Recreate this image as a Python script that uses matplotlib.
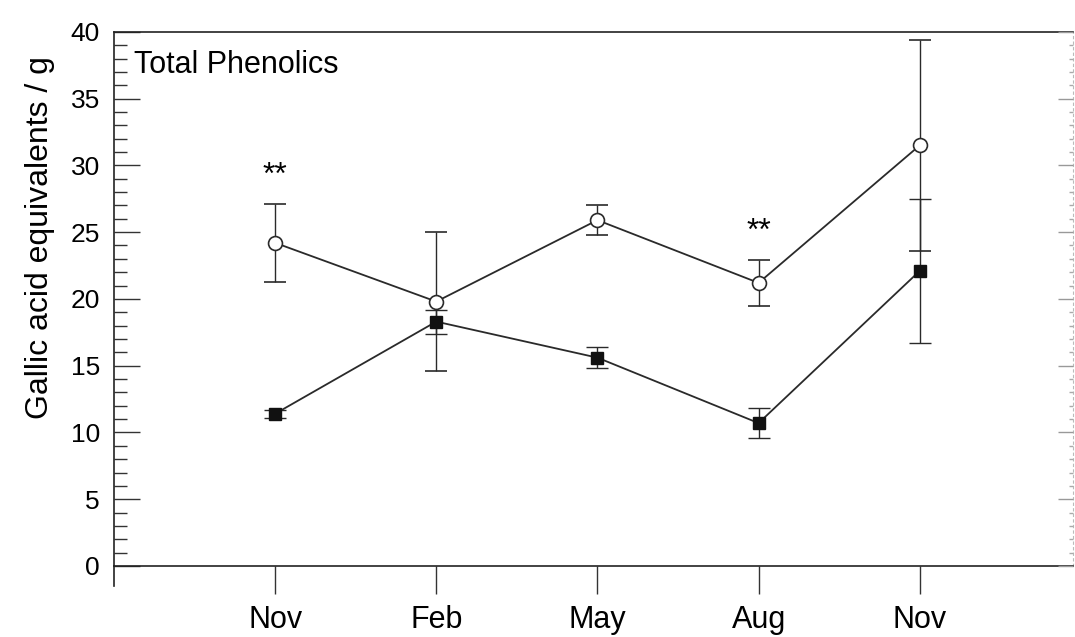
import numpy as np
import matplotlib.pyplot as plt
from matplotlib.ticker import MultipleLocator

plt.rcParams['font.family'] = ['Liberation Sans', 'DejaVu Sans']

months = ['Nov', 'Feb', 'May', 'Aug', 'Nov']

# open circles
open_mean = [24.2, 19.8, 25.9, 21.2, 31.5]
open_err = [2.9, 5.2, 1.1, 1.7, 7.9]

# filled squares
filled_mean = [11.4, 18.3, 15.6, 10.7, 22.1]
filled_err = [0.3, 0.9, 0.8, 1.1, 5.4]

stars = ['**', '', '', '**', '']

fig = plt.figure(figsize=(10.75, 6.37), dpi=100)
ax = fig.add_axes([0.106, 0.1115, 0.892, 0.8385])

x = np.arange(len(months))

ax.errorbar(x, open_mean, yerr=open_err, fmt='-o', color='#2a2a2a', lw=1.3,
            ms=10, mfc='white', mec='#2a2a2a', mew=1.2,
            ecolor='#2a2a2a', elinewidth=1.0, capsize=8, capthick=1.0, zorder=3)
ax.errorbar(x, filled_mean, yerr=filled_err, fmt='-s', color='#2a2a2a', lw=1.3,
            ms=8.5, mfc='#111111', mec='#111111',
            ecolor='#2a2a2a', elinewidth=1.0, capsize=8, capthick=1.0, zorder=3)

for xi, m, e, s in zip(x, open_mean, open_err, stars):
    if s:
        ax.text(xi, m + e + 1.5, s, ha='center', va='baseline', fontsize=23)

ax.set_xlim(-1, 4.95)
ax.set_ylim(0, 40)
ax.set_xticks(x)
ax.set_xticklabels(months, fontsize=22)
ax.yaxis.set_major_locator(MultipleLocator(5))
ax.yaxis.set_minor_locator(MultipleLocator(1))
ax.tick_params(axis='y', which='major', direction='in', length=19, width=1.0,
               labelsize=19, pad=10, color='#333333')
ax.tick_params(axis='y', which='minor', direction='in', length=9, width=1.0,
               color='#333333')
ax.tick_params(axis='x', direction='out', length=20, width=1.0, pad=8,
               color='#333333')

ax.set_ylabel('Gallic acid equivalents / g', fontsize=23)
ax.yaxis.set_label_coords(-0.061, 0.614)
ax.text(0.021, 0.923, 'Total Phenolics', transform=ax.transAxes,
        ha='left', va='baseline', fontsize=22)

for side in ['left', 'top', 'bottom']:
    ax.spines[side].set_color('#222222')
    ax.spines[side].set_linewidth(1.2)
ax.spines['right'].set_color('#bbbbbb')
ax.spines['right'].set_linewidth(0.8)
ax.spines['right'].set_linestyle((0, (2, 3)))

# faint inward ticks on the right edge
ax2 = ax.twinx()
ax2.set_ylim(ax.get_ylim())
ax2.yaxis.set_major_locator(MultipleLocator(5))
ax2.yaxis.set_minor_locator(MultipleLocator(1))
ax2.tick_params(axis='y', which='major', direction='in', length=11, width=1.0,
                color='#999999', labelright=False)
ax2.tick_params(axis='y', which='minor', direction='in', length=3, width=1.0,
                color='#aaaaaa')
for side in ax2.spines:
    ax2.spines[side].set_visible(False)

# left axis runs a little below zero
ax.plot([-1, -1], [0, -1.5], color='#222222', lw=1.2, clip_on=False)

fig.savefig('out.png', dpi=100)
